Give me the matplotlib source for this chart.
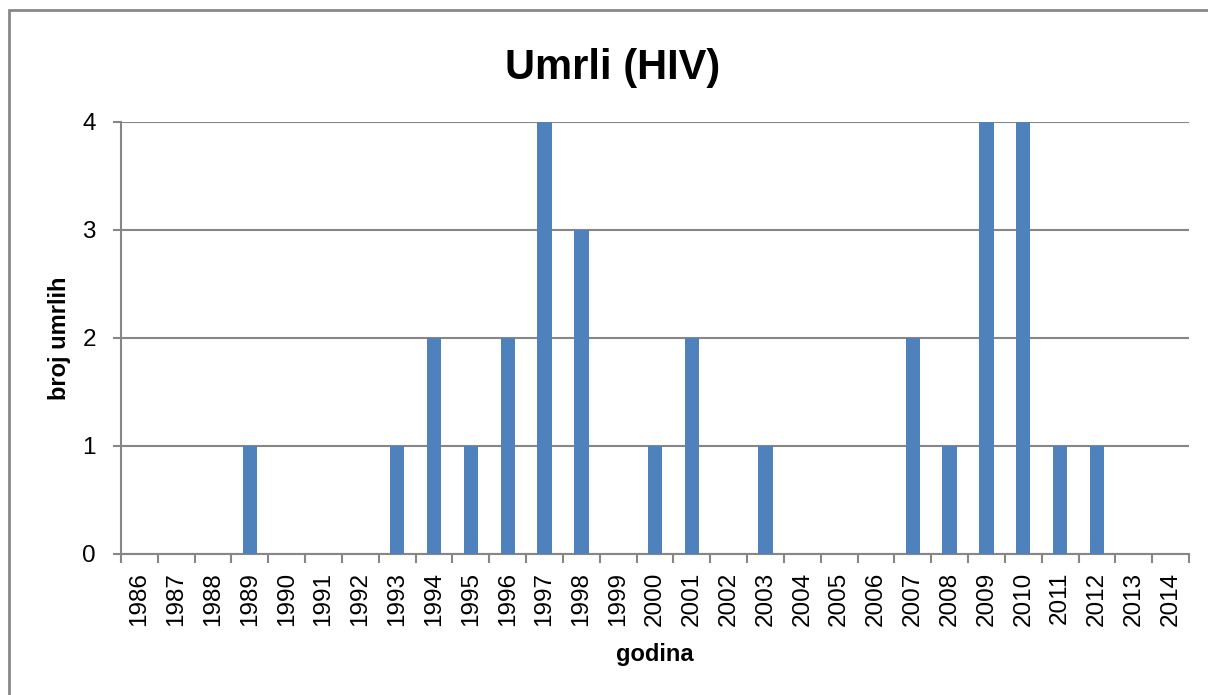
import matplotlib
matplotlib.use('Agg')
import matplotlib.pyplot as plt
from matplotlib.patches import Rectangle

# data
years = list(range(1986, 2015))
deaths = [0, 0, 0, 1, 0, 0, 0, 1, 2, 1, 2, 4, 3, 0, 1, 2, 0, 1, 0, 0, 0,
          2, 1, 4, 4, 1, 1, 0, 0]
yticks = [0, 1, 2, 3, 4]

sTitle = 'Umrli (HIV)'
sXlabel = 'godina'
sYlabel = 'broj umrlih'

barColour = '#4F81BD'
lineColour = '#868686'

plt.rcParams['font.family'] = ['Liberation Sans', 'DejaVu Sans']

fig = plt.figure(figsize=(12.08, 6.95), dpi=100)
W, H = 1208, 695
ax = fig.add_axes([121 / W, 1 - 554 / H, (1189 - 121) / W, (554 - 122) / H])

x = list(range(len(years)))
ax.bar(x, deaths, width=0.39, color=barColour, zorder=3)

ax.set_xlim(-0.5, len(years) - 0.5)
ax.set_ylim(0, 4)

#   gridlines + spines
ax.set_yticks(yticks)
ax.yaxis.grid(True, color=lineColour, linewidth=1.5)
ax.set_axisbelow(True)
for s in ['top', 'right']:
    ax.spines[s].set_visible(False)
for s in ['left', 'bottom']:
    ax.spines[s].set_color(lineColour)
    ax.spines[s].set_linewidth(1.5)

#   category ticks on boundaries, labels at centres
ax.set_xticks([i - 0.5 for i in range(len(years) + 1)])
ax.set_xticklabels([])
ax.set_xticks(x, minor=True)
ax.set_xticklabels([str(y) for y in years], minor=True, rotation=90,
                   fontsize=17.5)
ax.tick_params(axis='x', which='major', length=6.5, width=1.5,
               color=lineColour, direction='out')
ax.tick_params(axis='x', which='minor', length=0, pad=13)
ax.tick_params(axis='y', length=6, width=1.5, color=lineColour,
               labelsize=17.5, pad=12)

ax.set_xlabel(sXlabel, fontsize=17, fontweight='bold', labelpad=12)
ax.set_ylabel(sYlabel, fontsize=17, fontweight='bold', labelpad=8)

fig.text(613 / W, 1 - 68 / H, sTitle, fontsize=30, fontweight='bold',
         ha='center', va='center')

#   chart border (only top and left are inside the image)
fig.patches.append(Rectangle((9 / W, -0.1), 1.2, (1 - 10 / H) + 0.1,
                             transform=fig.transFigure, fill=False,
                             edgecolor='#888888', linewidth=2))

plt.savefig('out.png', dpi=100)
